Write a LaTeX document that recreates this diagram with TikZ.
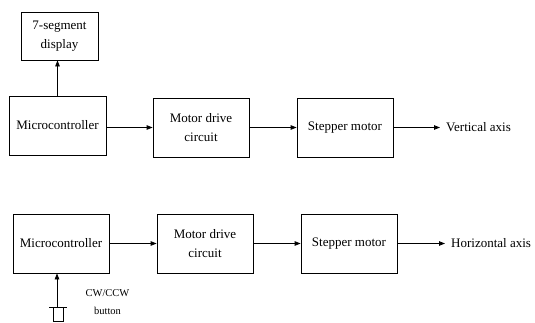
\documentclass[tikz,border=0pt]{standalone}
\usepackage{fontspec}
\setmainfont{Liberation Serif}
\usetikzlibrary{positioning, arrows.meta}

\begin{document}
\begin{tikzpicture}[
  x=1pt, y=-1pt,
  block/.style={draw, line width=0.8pt, minimum width=96pt, minimum height=59pt,
                align=center, inner sep=2pt, font=\fontsize{13}{19}\selectfont},
  axislabel/.style={font=\fontsize{13}{19}\selectfont, anchor=west, inner sep=0pt},
  flow/.style={line width=0.8pt, -{Triangle[length=6pt,width=4.5pt]}},
]
\useasboundingbox (0,0) rectangle (535,322);

% upper chain (vertical axis)
\node[block, minimum width=77pt, minimum height=48pt] (disp) at (59.5,36) {7-segment\\display};
\node[block, minimum width=97pt] (mc1) at (57.5,125.5) {Microcontroller};
\node[block] (md1) at (201,127.5) {Motor drive\\circuit};
\node[block] (sm1) at (345,127.5) {Stepper motor};
\coordinate (ax1) at (440,127.5);
\node[axislabel, right=6pt of ax1] (vl) {Vertical axis};

\draw[flow] (mc1.north) -- (mc1.north |- disp.south);
\draw[flow] (mc1.east |- md1.west) -- (md1.west);
\draw[flow] (md1.east) -- (sm1.west);
\draw[flow] (sm1.east) -- (ax1);

% lower chain (horizontal axis)
\node[block] (mc2) at (61,243.5) {Microcontroller};
\node[block] (md2) at (205,243.5) {Motor drive\\circuit};
\node[block] (sm2) at (349,243.5) {Stepper motor};
\coordinate (ax2) at (445,243.5);
\node[axislabel, right=6pt of ax2] (hl) {Horizontal axis};

\draw[flow] (mc2.east) -- (md2.west);
\draw[flow] (md2.east) -- (sm2.west);
\draw[flow] (sm2.east) -- (ax2);

% push button
\coordinate (btn) at (57,307);
\draw[line width=0.8pt] (49,307) -- (67,307);
\draw[line width=0.8pt] (53,307) rectangle (63,321.5);
\draw[flow] (btn) -- (btn |- mc2.south);
\node[align=center, inner sep=0pt, font=\fontsize{10.5}{18}\selectfont] (btnlabel) at (107.5,302) {CW/CCW\\button};
\end{tikzpicture}
\end{document}
